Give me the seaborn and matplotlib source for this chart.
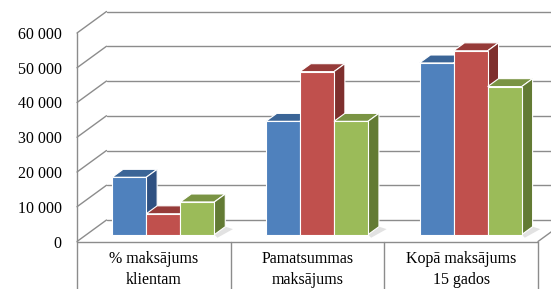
import matplotlib
matplotlib.use("Agg")
import matplotlib.pyplot as plt
from matplotlib.patches import Polygon
from matplotlib.ticker import FuncFormatter
import numpy as np
import pandas as pd
import seaborn as sns

# data
categories = ["% maksājums\nklientam", "Pamatsummas\nmaksājums", "Kopā maksājums\n15 gados"]
series = ["Sērija 1", "Sērija 2", "Sērija 3"]
blue_vals = [16500, 32600, 49400]
red_vals = [6000, 46900, 52900]
green_vals = [9400, 32600, 42600]
yticks = [0, 10000, 20000, 30000, 40000, 50000, 60000]

front_cols = ["#4F81BD", "#C0504D", "#9BBB59"]
top_cols = ["#3B6597", "#963B39", "#7A9444"]
side_cols = ["#2F5182", "#7E2F2D", "#637B34"]
grid_col = "#8C8C8C"

df = pd.DataFrame({
    "kategorija": categories * 3,
    "sērija": [s for s in series for _ in categories],
    "vērtība": blue_vals + red_vals + green_vals,
})

sns.set_style("white")
plt.rcParams["font.family"] = ["Liberation Serif", "DejaVu Serif"]

W, H = 551, 289
fig = plt.figure(figsize=(W / 100, H / 100), dpi=100)
x0_px, floor_px = 77, 241.5
px_per_cat = (538 - 77) / 3
px_per_val = 34.75 / 10000
ax = fig.add_axes([x0_px / W, (H - floor_px) / H, (W - x0_px) / W, floor_px / H])

sns.barplot(data=df, x="kategorija", y="vērtība", hue="sērija", palette=front_cols,
            saturation=1, width=0.665, gap=0, legend=False, errorbar=None,
            edgecolor="white", linewidth=0.8, ax=ax)

xmin = -0.5
xmax = xmin + (W - x0_px) / px_per_cat
ymax = floor_px / px_per_val
ax.set_xlim(xmin, xmax)
ax.set_ylim(0, ymax)

# depth of the box in data units
DX = 29.5 / px_per_cat
DY = 21.5 / px_per_val
f0, fb = 0.32, 0.37

# walls and gridlines
for v in yticks:
    ax.plot([xmin, xmin + DX], [v, v + DY], color=grid_col, lw=1, zorder=1, clip_on=False)
    ax.plot([xmin + DX, xmax + 1], [v + DY, v + DY], color=grid_col, lw=1, zorder=1)
ax.plot([xmin, xmin], [0, yticks[-1]], color=grid_col, lw=1, zorder=1, clip_on=False)

# floor front edge and category box
ax.plot([xmin, 2.5], [0, 0], color=grid_col, lw=1, zorder=1, clip_on=False)
ax.plot([2.5, 2.5 + DX], [0, DY], color=grid_col, lw=1, zorder=1)
for xb in [-0.5, 0.5, 1.5, 2.5]:
    ax.plot([xb, xb], [0, -20000], color=grid_col, lw=1, zorder=1, clip_on=False)

# 3D look: move the front faces back, add tops and sides
bdx, bdy = fb * DX, fb * DY
for j, cont in enumerate(ax.containers):
    for p in cont.patches:
        p.set_x(p.get_x() + f0 * DX)
        p.set_y(p.get_y() + f0 * DY)
        p.set_zorder(3 + 2 * j)
        x, y, w, h = p.get_x(), p.get_y(), p.get_width(), p.get_height()
        top = Polygon([(x, y + h), (x + w, y + h), (x + w + bdx, y + h + bdy), (x + bdx, y + h + bdy)],
                      closed=True, facecolor=top_cols[j], edgecolor="white", lw=0.8, zorder=2 + 2 * j)
        side = Polygon([(x + w, y), (x + w + bdx, y + bdy), (x + w + bdx, y + h + bdy), (x + w, y + h)],
                       closed=True, facecolor=side_cols[j], edgecolor="white", lw=0.8, zorder=2 + 2 * j)
        ax.add_patch(top)
        ax.add_patch(side)
        if j == len(ax.containers) - 1:
            # soft floor shadow to the right of each group
            shadow = Polygon([(x + w, y), (x + w + bdx, y + bdy), (x + w + bdx + 0.05, y + bdy - 700),
                              (x + w + 0.02, y - 900)],
                             closed=True, facecolor="#E2E2E2", edgecolor="none", zorder=1.5)
            ax.add_patch(shadow)

ax.set_yticks(yticks)
ax.yaxis.set_major_formatter(FuncFormatter(lambda v, _: f"{int(v):,}".replace(",", " ")))
ax.tick_params(axis="y", length=0, pad=11, labelsize=11.5, labelcolor="black")
ax.tick_params(axis="x", length=0, pad=7, labelsize=11.5, labelcolor="black")
for lab in ax.get_xticklabels():
    lab.set_linespacing(1.4)
ax.set_xlabel("")
ax.set_ylabel("")
for s in ax.spines.values():
    s.set_visible(False)
ax.patch.set_alpha(0)

fig.savefig("out.png", dpi=100)
